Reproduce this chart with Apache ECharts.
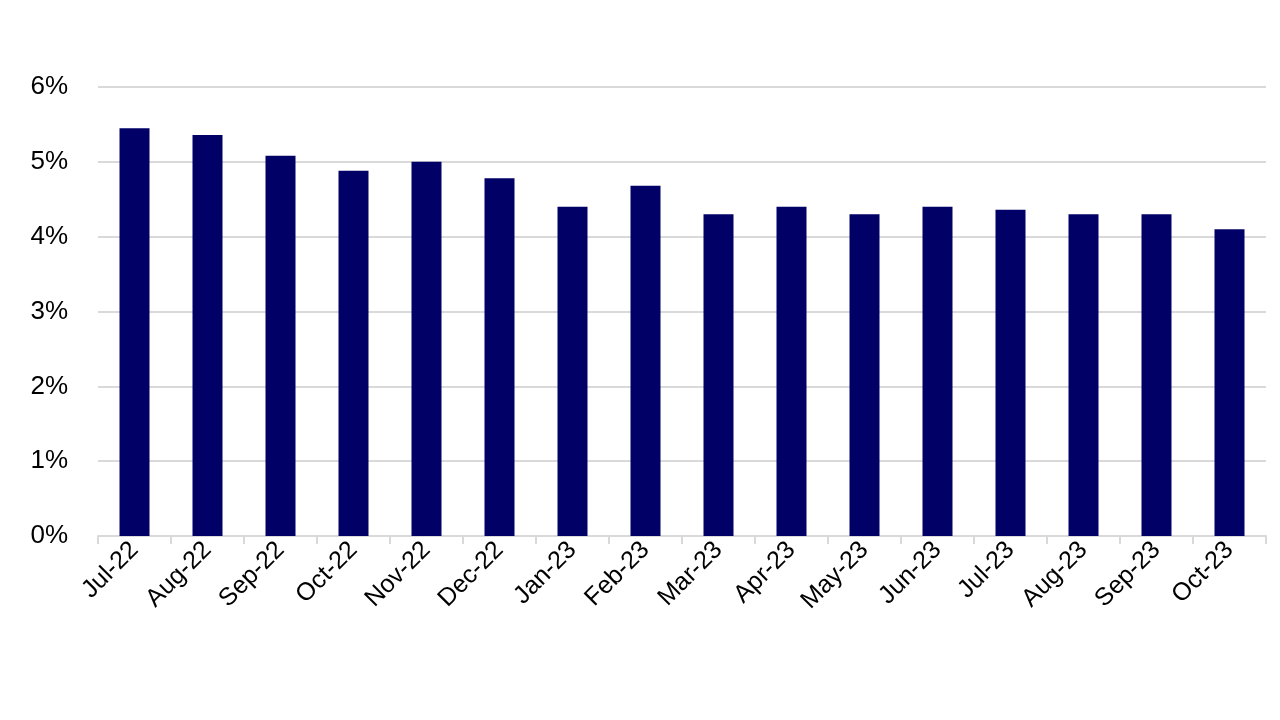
<!DOCTYPE html>
<html><head><meta charset="utf-8">
<script src="https://cdn.jsdelivr.net/npm/echarts@6/dist/echarts.min.js"></script>
<style>html,body{margin:0;padding:0;background:#fff}#c{width:1280px;height:720px}</style>
</head><body><div id="c"></div>
<script>
const categories = ["Jul-22","Aug-22","Sep-22","Oct-22","Nov-22","Dec-22","Jan-23","Feb-23","Mar-23","Apr-23","May-23","Jun-23","Jul-23","Aug-23","Sep-23","Oct-23"];
const values = [5.45,5.36,5.08,4.88,5.0,4.78,4.4,4.68,4.3,4.4,4.3,4.4,4.36,4.3,4.3,4.1];
const chart = echarts.init(document.getElementById('c'));
chart.setOption({
  animation:false,
  grid:{left:98,right:14,top:87,bottom:184,containLabel:false},
  xAxis:{type:'category',data:categories,
    axisLine:{lineStyle:{color:'#d9d9d9',width:2}},
    axisTick:{show:true,lineStyle:{color:'#d9d9d9',width:2},length:8},
    axisLabel:{rotate:45,color:'#000',fontSize:25,fontFamily:'Liberation Sans, Arial',interval:0,margin:10}},
  yAxis:{type:'value',min:0,max:6,interval:1,
    axisLabel:{formatter:v=>v+'%',color:'#000',fontSize:26,fontFamily:'Liberation Sans, Arial',margin:30},
    axisLine:{show:false},axisTick:{show:false},
    splitLine:{lineStyle:{color:'#d9d9d9',width:2}}},
  series:[{type:'bar',data:values,barWidth:30,itemStyle:{color:'#000066'}}]
});
</script></body></html>
